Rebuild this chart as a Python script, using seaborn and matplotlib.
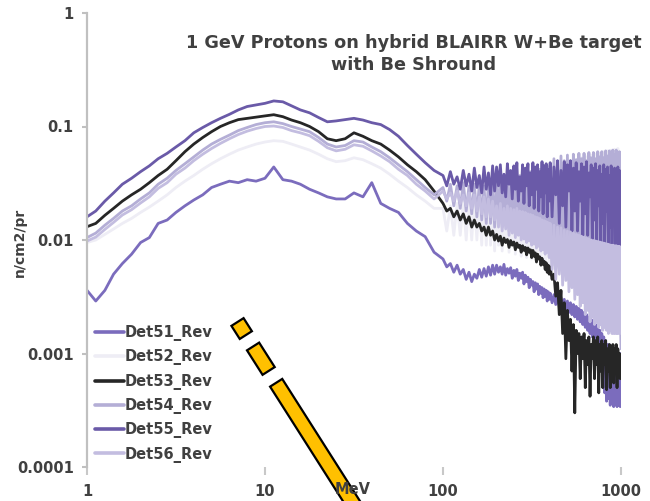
import matplotlib
matplotlib.use("Agg")
import matplotlib.pyplot as plt
from matplotlib.patches import Polygon
import seaborn as sns
import pandas as pd
import numpy as np

# ---------------- data ----------------
energy_low = [1.00, 1.12, 1.26, 1.41, 1.58, 1.78, 2.00, 2.24, 2.51, 2.82,
              3.16, 3.55, 3.98, 4.47, 5.01, 5.62, 6.31, 7.08, 7.94, 8.91,
              10.0, 11.2, 12.6, 14.1, 15.8, 17.8, 20.0, 22.4, 25.1, 28.2,
              31.6, 35.5, 39.8, 44.7, 50.1, 56.2, 63.1, 70.8, 79.4, 89.1]
energy_mid = [100, 105, 110, 115, 120, 125, 130, 135, 140, 145,
              150, 155, 160, 165, 170, 175, 180, 185, 190, 195]
energy_high1 = [200, 205, 210, 215, 220, 225, 230, 235, 240, 245,
                250, 255, 260, 265, 270, 275, 280, 285, 290, 295,
                300, 305, 310, 315, 320, 325, 330, 335, 340, 345,
                350, 355, 360, 365, 370, 375, 380, 385, 390, 395]
energy_high2 = [400, 410, 420, 430, 440, 450, 460, 470, 480, 490,
                500, 510, 520, 530, 540, 550, 560, 570, 580, 590,
                600, 610, 620, 630, 640, 650, 660, 670, 680, 690,
                700, 710, 720, 730, 740, 750, 760, 770, 780, 790,
                800, 810, 820, 830, 840, 850, 860, 870, 880, 890,
                900, 910, 920, 930, 940, 950, 960, 970, 980, 990, 1000]
energy = energy_low + energy_mid + energy_high1 + energy_high2

det51 = [0.0036, 0.0029, 0.0036, 0.0050, 0.0062, 0.0075, 0.0095, 0.0105, 0.0140, 0.0150,
         0.0175, 0.020, 0.0225, 0.025, 0.029, 0.031, 0.033, 0.032, 0.034, 0.033,
         0.035, 0.044, 0.034, 0.033, 0.031, 0.028, 0.026, 0.024, 0.023, 0.023,
         0.026, 0.024, 0.032, 0.021, 0.019, 0.0175, 0.014, 0.012, 0.0107, 0.0078,
         # 100-195
         0.0068, 0.0058, 0.0062, 0.0052, 0.0060, 0.0050, 0.0055, 0.0045, 0.0052, 0.0043,
         0.0050, 0.0046, 0.0055, 0.0047, 0.0056, 0.0048, 0.0058, 0.0049, 0.0060, 0.0050,
         # 200-395
         0.0060, 0.0052, 0.0058, 0.0050, 0.0061, 0.0049, 0.0056, 0.0051, 0.0057, 0.0046,
         0.0054, 0.0048, 0.0055, 0.0044, 0.0051, 0.0046, 0.0052, 0.0041, 0.0049, 0.0043,
         0.0047, 0.0038, 0.0045, 0.0040, 0.0043, 0.0035, 0.0042, 0.0037, 0.0041, 0.0033,
         0.0039, 0.0034, 0.0038, 0.0031, 0.0037, 0.0032, 0.0036, 0.0029, 0.0035, 0.0030,
         # 400-1000
         0.0034, 0.0028, 0.0033, 0.0027, 0.0032, 0.0026, 0.0031, 0.0025, 0.0030, 0.0024,
         0.0029, 0.0023, 0.0028, 0.0022, 0.0027, 0.0021, 0.0026, 0.0020, 0.0025, 0.0019,
         0.0024, 0.0018, 0.0023, 0.0017, 0.0022, 0.0016, 0.0021, 0.0015, 0.0020, 0.0014,
         0.0019, 0.0013, 0.0018, 0.0012, 0.0017, 0.0011, 0.0016, 0.0010, 0.0015, 0.0009,
         0.0014, 0.00045, 0.0013, 0.00038, 0.0012, 0.00040, 0.0012, 0.00035, 0.0011, 0.00037,
         0.0011, 0.00034, 0.0010, 0.00036, 0.0010, 0.00034, 0.0009, 0.00035, 0.0009, 0.00034, 0.0010]

det52 = [0.0095, 0.0100, 0.0112, 0.0125, 0.014, 0.0155, 0.0175, 0.0195, 0.022, 0.025,
         0.029, 0.033, 0.037, 0.042, 0.047, 0.052, 0.057, 0.062, 0.066, 0.070,
         0.073, 0.075, 0.074, 0.070, 0.066, 0.062, 0.057, 0.052, 0.049, 0.050,
         0.053, 0.051, 0.047, 0.043, 0.038, 0.033, 0.029, 0.025, 0.022, 0.019,
         0.019, 0.012, 0.020, 0.011, 0.021, 0.011, 0.022, 0.010, 0.023, 0.010,
         0.024, 0.010, 0.025, 0.009, 0.026, 0.009, 0.027, 0.009, 0.028, 0.008,
         0.030, 0.009, 0.026, 0.008, 0.031, 0.010, 0.027, 0.0078, 0.033, 0.0095,
         0.028, 0.0075, 0.034, 0.009, 0.030, 0.0072, 0.036, 0.0088, 0.031, 0.007,
         0.037, 0.0085, 0.033, 0.0068, 0.039, 0.0082, 0.034, 0.0065, 0.040, 0.008,
         0.035, 0.0062, 0.042, 0.0078, 0.037, 0.006, 0.043, 0.0075, 0.038, 0.0058,
         0.045, 0.0056, 0.040, 0.0070, 0.047, 0.0053, 0.042, 0.0068, 0.048, 0.0050,
         0.044, 0.0065, 0.050, 0.0048, 0.045, 0.0062, 0.051, 0.0046, 0.047, 0.0060,
         0.053, 0.0044, 0.048, 0.0058, 0.054, 0.0042, 0.049, 0.0055, 0.056, 0.0040,
         0.050, 0.0052, 0.057, 0.0038, 0.052, 0.0050, 0.058, 0.0036, 0.053, 0.0048,
         0.060, 0.0034, 0.055, 0.0045, 0.061, 0.0032, 0.056, 0.0042, 0.062, 0.0030,
         0.057, 0.0040, 0.063, 0.0029, 0.058, 0.0038, 0.064, 0.0028, 0.059, 0.0036, 0.0027]

det53 = [0.0131, 0.0140, 0.0165, 0.019, 0.022, 0.025, 0.028, 0.032, 0.037, 0.042,
         0.050, 0.060, 0.070, 0.080, 0.090, 0.100, 0.108, 0.115, 0.118, 0.121,
         0.124, 0.127, 0.122, 0.114, 0.108, 0.100, 0.090, 0.078, 0.075, 0.078,
         0.088, 0.082, 0.075, 0.070, 0.062, 0.054, 0.046, 0.040, 0.034, 0.027,
         0.021, 0.018, 0.019, 0.016, 0.018, 0.015, 0.017, 0.014, 0.016, 0.013,
         0.015, 0.013, 0.014, 0.012, 0.013, 0.011, 0.013, 0.011, 0.012, 0.010,
         0.0112, 0.0098, 0.0108, 0.0090, 0.0104, 0.0095, 0.0101, 0.0086, 0.0099, 0.0090,
         0.0096, 0.0082, 0.0094, 0.0086, 0.0090, 0.0078, 0.0089, 0.0081, 0.0086, 0.0074,
         0.0085, 0.0078, 0.0082, 0.0070, 0.0081, 0.0072, 0.0077, 0.0064, 0.0075, 0.0068,
         0.0071, 0.0060, 0.0069, 0.0061, 0.0065, 0.0055, 0.0063, 0.0052, 0.0060, 0.0050,
         0.0058, 0.0045, 0.0050, 0.0032, 0.0042, 0.0022, 0.0036, 0.0015, 0.0028, 0.0009,
         0.0024, 0.0013, 0.0020, 0.0007, 0.0018, 0.0003, 0.0016, 0.0010, 0.0015, 0.0006,
         0.0014, 0.0009, 0.0015, 0.0005, 0.0013, 0.0008, 0.0014, 0.00042, 0.0012, 0.0009,
         0.0014, 0.0006, 0.0013, 0.0008, 0.0014, 0.00045, 0.0012, 0.0007, 0.0013, 0.0005,
         0.0012, 0.0008, 0.0013, 0.00048, 0.0011, 0.0007, 0.0012, 0.0005, 0.0011, 0.0008,
         0.0012, 0.00055, 0.0011, 0.0007, 0.0012, 0.0005, 0.0011, 0.0007, 0.0010, 0.0006, 0.0009]

det54 = [0.0105, 0.0115, 0.0135, 0.0155, 0.018, 0.020, 0.023, 0.026, 0.031, 0.035,
         0.041, 0.047, 0.054, 0.062, 0.070, 0.077, 0.084, 0.092, 0.098, 0.104,
         0.108, 0.110, 0.106, 0.100, 0.095, 0.090, 0.080, 0.070, 0.066, 0.068,
         0.075, 0.073, 0.066, 0.060, 0.053, 0.046, 0.040, 0.034, 0.029, 0.025,
         0.029, 0.022, 0.031, 0.020, 0.030, 0.019, 0.032, 0.018, 0.030, 0.017,
         0.031, 0.016, 0.032, 0.015, 0.030, 0.014, 0.033, 0.014, 0.031, 0.013,
         0.032, 0.016, 0.036, 0.013, 0.028, 0.018, 0.035, 0.012, 0.031, 0.015,
         0.038, 0.0115, 0.030, 0.017, 0.037, 0.011, 0.033, 0.0135, 0.039, 0.0105,
         0.034, 0.016, 0.040, 0.010, 0.032, 0.0125, 0.041, 0.0095, 0.036, 0.014,
         0.042, 0.0090, 0.035, 0.0115, 0.043, 0.0085, 0.038, 0.011, 0.044, 0.0080,
         0.046, 0.0060, 0.052, 0.0090, 0.048, 0.0056, 0.055, 0.0080, 0.050, 0.0050,
         0.056, 0.0072, 0.049, 0.0046, 0.057, 0.0066, 0.051, 0.0042, 0.058, 0.0060,
         0.052, 0.0039, 0.058, 0.0054, 0.050, 0.0036, 0.059, 0.0050, 0.053, 0.0033,
         0.059, 0.0046, 0.052, 0.0030, 0.060, 0.0042, 0.054, 0.0028, 0.060, 0.0038,
         0.053, 0.0026, 0.061, 0.0035, 0.055, 0.0024, 0.061, 0.0032, 0.054, 0.0022,
         0.062, 0.0030, 0.056, 0.0020, 0.062, 0.0028, 0.055, 0.0019, 0.060, 0.0025, 0.0011]

det55 = [0.016, 0.018, 0.022, 0.026, 0.031, 0.035, 0.040, 0.045, 0.052, 0.058,
         0.066, 0.075, 0.088, 0.098, 0.108, 0.118, 0.128, 0.140, 0.150, 0.155,
         0.160, 0.168, 0.165, 0.152, 0.140, 0.132, 0.120, 0.110, 0.112, 0.115,
         0.118, 0.114, 0.108, 0.104, 0.094, 0.082, 0.068, 0.057, 0.048, 0.041,
         0.037, 0.030, 0.040, 0.031, 0.036, 0.028, 0.041, 0.030, 0.038, 0.027,
         0.043, 0.029, 0.037, 0.026, 0.044, 0.028, 0.039, 0.025, 0.045, 0.027,
         0.044, 0.030, 0.046, 0.026, 0.038, 0.024, 0.047, 0.031, 0.041, 0.023,
         0.045, 0.028, 0.048, 0.022, 0.036, 0.027, 0.046, 0.021, 0.043, 0.030,
         0.047, 0.020, 0.039, 0.025, 0.048, 0.019, 0.044, 0.028, 0.046, 0.018,
         0.040, 0.024, 0.049, 0.017, 0.045, 0.026, 0.047, 0.016, 0.042, 0.022,
         0.048, 0.016, 0.044, 0.025, 0.050, 0.014, 0.041, 0.020, 0.049, 0.013,
         0.046, 0.027, 0.050, 0.012, 0.043, 0.018, 0.048, 0.012, 0.040, 0.022,
         0.047, 0.011, 0.044, 0.017, 0.049, 0.011, 0.039, 0.024, 0.046, 0.010,
         0.043, 0.015, 0.047, 0.010, 0.041, 0.020, 0.045, 0.0095, 0.038, 0.014,
         0.046, 0.0092, 0.042, 0.018, 0.044, 0.009, 0.037, 0.013, 0.045, 0.0088,
         0.040, 0.016, 0.043, 0.0087, 0.038, 0.012, 0.044, 0.0086, 0.041, 0.0085, 0.0040]

det56 = [0.0098, 0.0106, 0.0124, 0.0143, 0.0166, 0.0185, 0.0212, 0.024, 0.0285, 0.032,
         0.038, 0.043, 0.050, 0.057, 0.064, 0.071, 0.078, 0.085, 0.091, 0.096,
         0.100, 0.101, 0.098, 0.092, 0.088, 0.083, 0.074, 0.065, 0.061, 0.063,
         0.069, 0.067, 0.061, 0.055, 0.049, 0.042, 0.037, 0.031, 0.027, 0.023,
         0.027, 0.023, 0.026, 0.022, 0.027, 0.021, 0.025, 0.020, 0.026, 0.019,
         0.025, 0.018, 0.024, 0.017, 0.024, 0.016, 0.023, 0.016, 0.022, 0.015,
         0.020, 0.013, 0.021, 0.012, 0.019, 0.0125, 0.020, 0.011, 0.019, 0.0115,
         0.0185, 0.0105, 0.019, 0.011, 0.018, 0.010, 0.0178, 0.0102, 0.0175, 0.0095,
         0.017, 0.0098, 0.0168, 0.009, 0.0165, 0.0092, 0.016, 0.0085, 0.0158, 0.0088,
         0.0155, 0.008, 0.015, 0.0082, 0.0148, 0.0075, 0.0145, 0.0078, 0.0142, 0.007,
         0.014, 0.0055, 0.0135, 0.0045, 0.013, 0.0050, 0.0128, 0.0040, 0.0122, 0.0044,
         0.012, 0.0035, 0.0118, 0.0038, 0.0115, 0.0030, 0.0112, 0.0033, 0.011, 0.0026,
         0.0108, 0.0028, 0.0106, 0.0022, 0.0104, 0.0024, 0.0102, 0.0019, 0.010, 0.0021,
         0.0099, 0.0018, 0.0098, 0.0019, 0.0097, 0.0017, 0.0096, 0.0018, 0.0095, 0.0016,
         0.0094, 0.0017, 0.0093, 0.0016, 0.0092, 0.0015, 0.0091, 0.0016, 0.009, 0.0015,
         0.009, 0.0015, 0.0089, 0.0015, 0.0089, 0.0015, 0.0088, 0.0015, 0.0088, 0.0015, 0.0060]

series_names = ["Det51_Rev", "Det52_Rev", "Det53_Rev", "Det54_Rev", "Det55_Rev", "Det56_Rev"]
series_values = [det51, det52, det53, det54, det55, det56]
series_colors = ["#7b6cbd", "#eeedf5", "#262626", "#b4aed6", "#6a5aa8", "#c3bde0"]

y_ticks = [0.0001, 0.001, 0.01, 0.1, 1]
y_tick_labels = ["0.0001", "0.001", "0.01", "0.1", "1"]
x_ticks = [1, 10, 100, 1000]
x_tick_labels = ["1", "10", "100", "1000"]

title_line1 = "1 GeV Protons on hybrid BLAIRR W+Be target"
title_line2 = "with Be Shround"
x_label = "MeV"
y_label = "n/cm2/pr"

for name, vals in zip(series_names, series_values):
    assert len(vals) == len(energy), (name, len(vals), len(energy))

# ---------------- build frame ----------------
frames = []
for name, vals in zip(series_names, series_values):
    frames.append(pd.DataFrame({"E": energy, "flux": vals, "det": name}))
df = pd.concat(frames, ignore_index=True)

sns.set_theme(style="white")
plt.rcParams["font.family"] = ["DejaVu Sans"]
TXT = "#404040"

W, H = 650, 501
fig = plt.figure(figsize=(W / 100, H / 100), dpi=100)
ax_left, ax_right, ax_top, ax_bottom = 87, 621, 13, 467
ax = fig.add_axes([ax_left / W, 1 - ax_bottom / H, (ax_right - ax_left) / W,
                   (ax_bottom - ax_top) / H])

sns.lineplot(data=df, x="E", y="flux", hue="det", hue_order=series_names,
             palette=dict(zip(series_names, series_colors)), estimator=None,
             units="det", sort=False, linewidth=2.0, ax=ax)

ax.set_xscale("log")
ax.set_yscale("log")
ax.set_xlim(1, 1000)
ax.set_ylim(0.0001, 1)
ax.set_xticks(x_ticks)
ax.set_xticklabels(x_tick_labels)
ax.set_yticks(y_ticks)
ax.set_yticklabels(y_tick_labels)
ax.minorticks_off()
ax.set_xlabel("")
ax.set_ylabel("")

for s in ["top", "right", "bottom"]:
    ax.spines[s].set_visible(False)
ax.spines["left"].set_color("#c0c0c0")
ax.spines["left"].set_linewidth(1.6)

ax.tick_params(axis="y", which="major", direction="out", length=3.5, width=1.5,
               color="#c0c0c0", pad=6, labelsize=10.5, labelcolor=TXT, left=True)
ax.tick_params(axis="x", which="major", direction="out", length=6, width=1.5,
               color="#c8c8c8", pad=6, labelsize=10.5, labelcolor=TXT, bottom=True)
for lab in ax.get_xticklabels() + ax.get_yticklabels():
    lab.set_fontweight("bold")

# legend
handles, labels = ax.get_legend_handles_labels()
leg = ax.legend(handles, labels, loc="upper left",
                bbox_to_anchor=(95 / W, 1 - 325 / H), bbox_transform=fig.transFigure,
                frameon=False, handlelength=2.0, handletextpad=0.05,
                labelspacing=0.57, borderpad=0, borderaxespad=0,
                prop={"size": 10.5, "weight": "bold"})
for t in leg.get_texts():
    t.set_color(TXT)
for l in leg.get_lines():
    l.set_linewidth(2.6)

# titles / labels
fig.text(414 / W, 1 - 43 / H, title_line1, ha="center", va="center",
         fontsize=12.7, fontweight="bold", color=TXT)
fig.text(414 / W, 1 - 65 / H, title_line2, ha="center", va="center",
         fontsize=12.7, fontweight="bold", color=TXT)
fig.text(353 / W, 1 - 489 / H, x_label, ha="center", va="center",
         fontsize=10.5, fontweight="bold", color=TXT, zorder=5)
fig.text(20 / W, 1 - 242 / H, y_label, ha="center", va="center", rotation=90,
         fontsize=10, fontweight="bold", color=TXT)

# yellow dashed arrow annotation (drawn shape)
p0 = np.array([237.5, 322.0])
u = np.array([0.537, 0.844])
nrm = np.array([0.844, -0.537])
hw = 7.2
for a, b in [(0, 15.5), (29, 58), (72, 280)]:
    pts_px = [p0 + u * a + nrm * hw, p0 + u * b + nrm * hw,
              p0 + u * b - nrm * hw, p0 + u * a - nrm * hw]
    pts = [(p[0] / W, 1 - p[1] / H) for p in pts_px]
    fig.add_artist(Polygon(pts, closed=True, facecolor="#FFC000",
                           edgecolor="black", linewidth=1.6,
                           transform=fig.transFigure, clip_on=False, zorder=2))

fig.savefig("out.png", dpi=100)
